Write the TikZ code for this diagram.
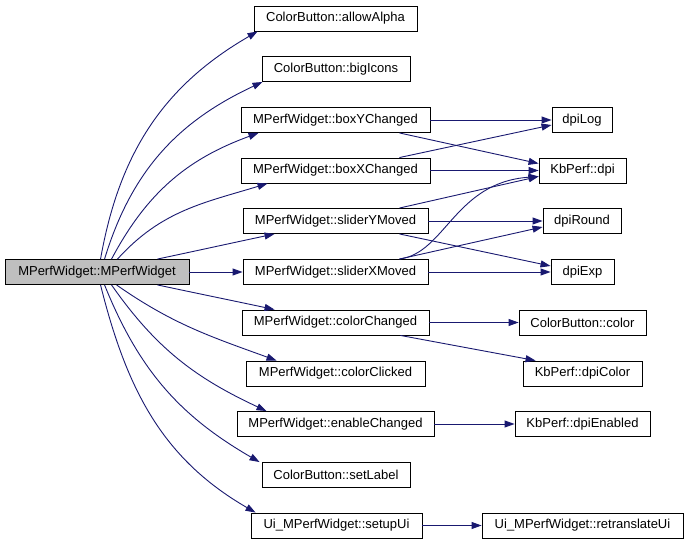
\documentclass[tikz,border=0pt]{standalone}
\usepackage{fontspec}
\setmainfont{Liberation Sans}
\usetikzlibrary{arrows.meta,calc}
\definecolor{edgeblue}{HTML}{191970}
\definecolor{maingray}{HTML}{BFBFBF}
\tikzset{
  box/.style={draw=black, line width=0.9pt, fill=white, minimum height=25pt, inner sep=0pt,
     font=\fontsize{13}{15}\selectfont, anchor=center},
  mainbox/.style={box, fill=maingray},
  call/.style={draw=edgeblue, line width=0.9pt, -{Triangle[length=10pt,width=7pt]}}
}
\begin{document}
\begin{tikzpicture}[x=1pt,y=1pt]
\useasboundingbox (0,0) rectangle (688,544);
% main
\node[mainbox, minimum width=184pt] (main) at (97,272) {MPerfWidget::MPerfWidget};
% column 2
\node[box, minimum width=163pt] (allowAlpha) at (335.5,525.5) {ColorButton::allowAlpha};
\node[box, minimum width=148pt] (bigIcons) at (336,475) {ColorButton::bigIcons};
\node[box, minimum width=189pt] (boxY) at (335.5,424) {MPerfWidget::boxYChanged};
\node[box, minimum width=189pt] (boxX) at (335.5,373.5) {MPerfWidget::boxXChanged};
\node[box, minimum width=185pt] (sliderY) at (335.5,323) {MPerfWidget::sliderYMoved};
\node[box, minimum width=185pt] (sliderX) at (335.5,272) {MPerfWidget::sliderXMoved};
\node[box, minimum width=187pt] (colorChanged) at (335.5,221.5) {MPerfWidget::colorChanged};
\node[box, minimum width=179pt] (colorClicked) at (335.5,170.5) {MPerfWidget::colorClicked};
\node[box, minimum width=197pt] (enableChanged) at (335.5,120) {MPerfWidget::enableChanged};
\node[box, minimum width=148pt] (setLabel) at (336,69) {ColorButton::setLabel};
\node[box, minimum width=171pt] (setupUi) at (336.5,18.5) {Ui\_MPerfWidget::setupUi};
% column 3
\node[box, minimum width=60pt] (dpiLog) at (582,424) {dpiLog};
\node[box, minimum width=87pt] (dpi) at (582.5,373.5) {KbPerf::dpi};
\node[box, minimum width=78pt] (dpiRound) at (582,323) {dpiRound};
\node[box, minimum width=63pt] (dpiExp) at (582.5,272) {dpiExp};
\node[box, minimum width=127pt] (color) at (582.5,221.5) {ColorButton::color};
\node[box, minimum width=119pt] (dpiColor) at (582.5,170.5) {KbPerf::dpiColor};
\node[box, minimum width=135pt] (dpiEnabled) at (582.5,120) {KbPerf::dpiEnabled};
\node[box, minimum width=201pt] (retranslate) at (582.5,18.5) {Ui\_MPerfWidget::retranslateUi};
% edges from main
\draw[call] ([xshift=96pt]main.north west) to[out=80,in=210] ([xshift=4pt]allowAlpha.south west);
\draw[call] ([xshift=100pt]main.north west) to[out=73,in=205] ([xshift=1pt]bigIcons.south west);
\draw[call] ([xshift=107pt]main.north west) to[out=62,in=200] ([xshift=18pt]boxY.south west);
\draw[call] ([xshift=113pt]main.north west) to[out=48,in=197] ([xshift=27pt]boxX.south west);
\draw[call] ([xshift=153pt]main.north west) to[out=12,in=192] ([xshift=32pt]sliderY.south west);
\draw[call] (main.east) -- (sliderX.west);
\draw[call] ([xshift=153pt]main.south west) to[out=-12,in=168] ([xshift=33pt]colorChanged.north west);
\draw[call] ([xshift=112pt]main.south west) to[out=-35,in=160] ([xshift=31pt]colorClicked.north west);
\draw[call] ([xshift=107pt]main.south west) to[out=-55,in=155] ([xshift=30pt]enableChanged.north west);
\draw[call] ([xshift=100pt]main.south west) to[out=-68,in=150] ([xshift=-2pt]setLabel.north west);
\draw[call] ([xshift=96pt]main.south west) to[out=-76,in=150] ([xshift=5pt]setupUi.north west);
% column 2 -> column 3
\draw[call] (boxY.east) -- (dpiLog.west);
\draw[call] ([xshift=-31pt]boxY.south east) -- ([yshift=7pt]dpi.west);
\draw[call] ([xshift=-31pt]boxX.north east) -- ([yshift=-5pt]dpiLog.west);
\draw[call] (boxX.east) -- (dpi.west);
\draw[call] ([xshift=-29pt]sliderY.north east) -- ([yshift=-6pt]dpi.west);
\draw[call] (sliderY.east) -- (dpiRound.west);
\draw[call] ([xshift=-29pt]sliderY.south east) -- ([yshift=6pt]dpiExp.west);
\draw[call] ([xshift=-29pt]sliderX.north east) .. controls ($(sliderX.north east)+(17pt,6pt)$) and ($(dpi.west)+(-84pt,-12pt)$) .. ([yshift=-6pt]dpi.west);
\draw[call] ([xshift=-29pt]sliderX.north east) -- ([yshift=-6pt]dpiRound.west);
\draw[call] (sliderX.east) -- (dpiExp.west);
\draw[call] (colorChanged.east) -- (color.west);
\draw[call] ([xshift=-29pt]colorChanged.south east) -- ([xshift=13pt]dpiColor.north west);
\draw[call] (enableChanged.east) -- (dpiEnabled.west);
\draw[call] (setupUi.east) -- (retranslate.west);
\end{tikzpicture}
\end{document}
